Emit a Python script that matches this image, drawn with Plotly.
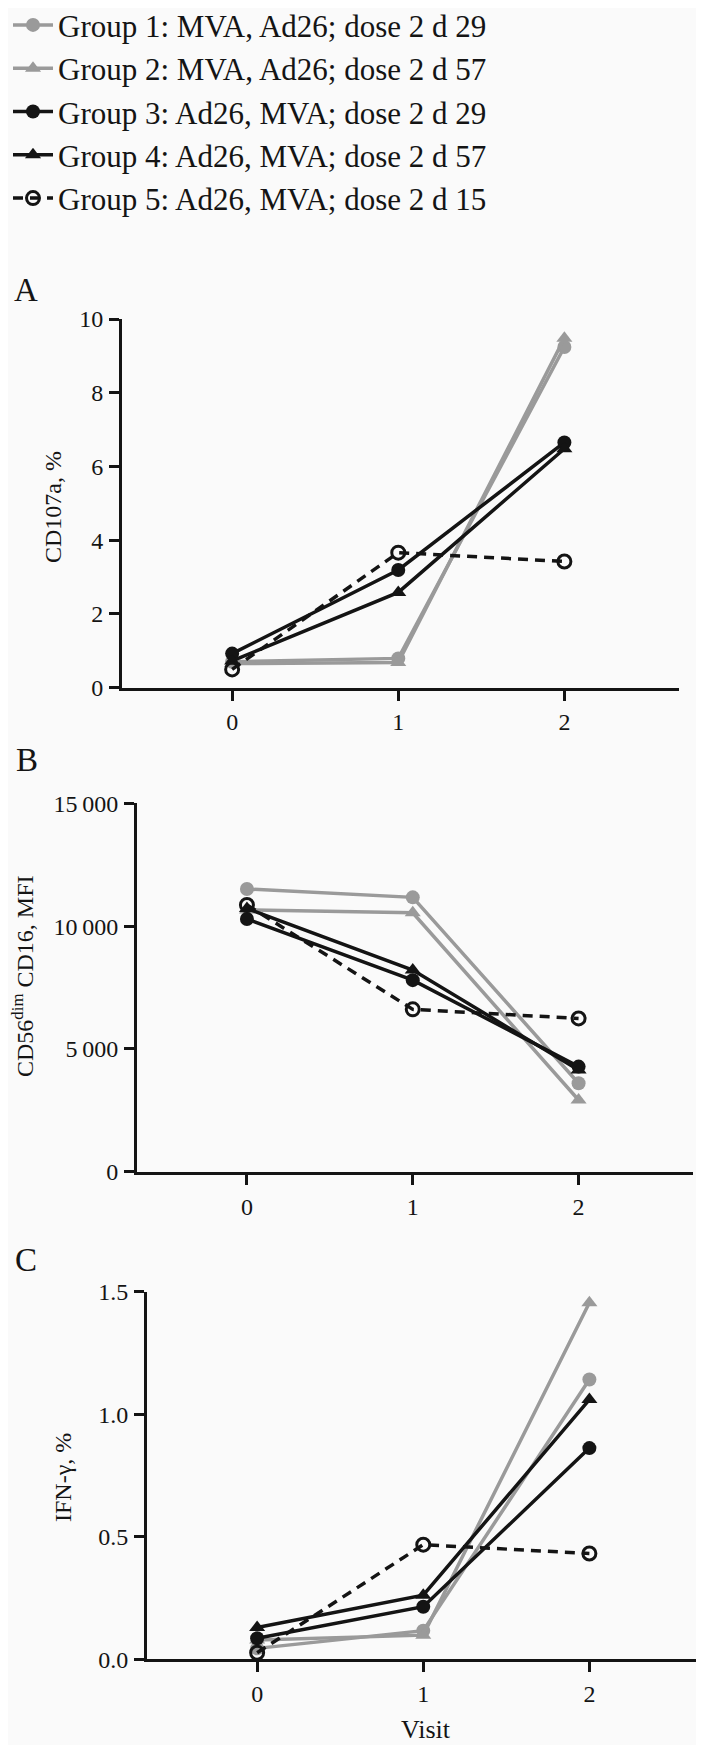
import plotly.graph_objects as go

visits = [0, 1, 2]
x_tick_labels = ["0", "1", "2"]

group_names = [
    "Group 1: MVA, Ad26; dose 2 d 29",
    "Group 2: MVA, Ad26; dose 2 d 57",
    "Group 3: Ad26, MVA; dose 2 d 29",
    "Group 4: Ad26, MVA; dose 2 d 57",
    "Group 5: Ad26, MVA; dose 2 d 15",
]

# Panel A: CD107a, %
cd107a_g1 = [0.70, 0.79, 9.24]
cd107a_g2 = [0.65, 0.68, 9.48]
cd107a_g3 = [0.92, 3.19, 6.65]
cd107a_g4 = [0.72, 2.58, 6.48]
cd107a_g5 = [0.49, 3.66, 3.42]

# Panel B: CD56dim CD16, MFI
mfi_g1 = [11510, 11170, 3600]
mfi_g2 = [10660, 10540, 2920]
mfi_g3 = [10290, 7800, 4280]
mfi_g4 = [10720, 8210, 4140]
mfi_g5 = [10860, 6610, 6240]

# Panel C: IFN-gamma, %
ifn_g1 = [0.045, 0.117, 1.142]
ifn_g2 = [0.079, 0.099, 1.455]
ifn_g3 = [0.086, 0.215, 0.862]
ifn_g4 = [0.130, 0.262, 1.060]
ifn_g5 = [0.027, 0.468, 0.432]

a_ticks = [0, 2, 4, 6, 8, 10]
b_ticks = [0, 5000, 10000, 15000]
b_tick_labels = ["0", "5\u2009000", "10\u2009000", "15\u2009000"]
c_ticks = [0, 0.5, 1.0, 1.5]
c_tick_labels = ["0.0", "0.5", "1.0", "1.5"]

GRAY = "#9a9a9a"
BLACK = "#141414"
FONT = "Liberation Serif, Times New Roman, serif"

styles = [
    dict(color=GRAY, symbol="circle", dash="solid"),
    dict(color=GRAY, symbol="triangle-up", dash="solid"),
    dict(color=BLACK, symbol="circle", dash="solid"),
    dict(color=BLACK, symbol="triangle-up", dash="solid"),
    dict(color=BLACK, symbol="circle-open", dash="10px,7px"),
]

panels = [
    ("x", "y", [cd107a_g1, cd107a_g2, cd107a_g3, cd107a_g4, cd107a_g5]),
    ("x2", "y2", [mfi_g1, mfi_g2, mfi_g3, mfi_g4, mfi_g5]),
    ("x3", "y3", [ifn_g1, ifn_g2, ifn_g3, ifn_g4, ifn_g5]),
]

fig = go.Figure()
for pi, (xa, ya, series) in enumerate(panels):
    for gi, vals in enumerate(series):
        st = styles[gi]
        open_m = st["symbol"] == "circle-open"
        fig.add_trace(go.Scatter(
            x=visits, y=vals, xaxis=xa, yaxis=ya,
            mode="lines+markers",
            name=group_names[gi],
            showlegend=(pi == 0),
            legendrank=gi + 1,
            line=dict(color=st["color"], width=3.5, dash=st["dash"]),
            marker=dict(symbol=st["symbol"], size=14 if not open_m else 13,
                        color=st["color"],
                        line=dict(width=3 if open_m else 0, color=st["color"])),
            cliponaxis=False,
        ))

# The page body has an 8px margin: figure is sized to fit the window,
# and positions below are given in page pixels, shifted by OFF.
OFF = 8
W, H = 704 - OFF, 1745 - OFF

def px_x(v):
    return (v - OFF) / W

def px_y(v):
    return 1 - (v - OFF) / H

xrange = [-0.663, 2.69]
axis_common = dict(
    showline=True, linewidth=3, linecolor=BLACK, ticks="outside", ticklen=10,
    tickwidth=3, tickcolor=BLACK, showgrid=False, zeroline=False,
    tickfont=dict(family=FONT, size=24, color=BLACK), automargin=False,
)

layout_axes = {}
domains = [
    ([122, 679], [319, 687.5]),
    ([137, 693], [803.3, 1171.7]),
    ([147, 704], [1291.7, 1659.4]),
]
yconf = [
    dict(range=[0, 10], tickvals=a_ticks, ticktext=[str(t) for t in a_ticks]),
    dict(range=[0, 15000], tickvals=b_ticks, ticktext=b_tick_labels),
    dict(range=[0, 1.5], tickvals=c_ticks, ticktext=c_tick_labels),
]
for i, ((dx0, dx1), (dy0, dy1)) in enumerate(domains):
    sx = "" if i == 0 else str(i + 1)
    layout_axes["xaxis" + sx] = dict(
        axis_common, domain=[px_x(dx0), min(1.0, px_x(dx1))], range=xrange,
        tickvals=visits, ticktext=x_tick_labels, anchor="y" + sx,
        ticklabelstandoff=1,
    )
    layout_axes["yaxis" + sx] = dict(
        axis_common, domain=[px_y(dy1), px_y(dy0)], anchor="x" + sx,
        ticklabelstandoff=1, **yconf[i],
    )

annotations = []
def ann(text, x, y, size, angle=0):
    annotations.append(dict(
        text=text, x=px_x(x), y=px_y(y), xref="paper", yref="paper",
        showarrow=False, textangle=angle, xanchor="center", yanchor="middle",
        font=dict(family=FONT, size=size, color=BLACK),
    ))

ann("A", 26, 290, 33)
ann("B", 27, 760, 33)
ann("C", 26, 1260, 33)
ann("CD107a, %", 53, 507, 24, -90)
ann("CD56<sup>dim</sup> CD16, MFI", 23, 977, 24, -90)
ann("IFN-γ, %", 63, 1478, 24, -90)
ann("Visit", 426, 1729, 26)

fig.update_layout(
    width=W, height=H,
    margin=dict(l=0, r=0, t=0, b=0, pad=0, autoexpand=False),
    paper_bgcolor="#fafafa", plot_bgcolor="#fafafa",
    font=dict(family=FONT, color=BLACK, size=24),
    showlegend=True,
    legend=dict(
        x=0.0, y=1.0056, xanchor="left", yanchor="top",
        font=dict(family=FONT, size=31, color=BLACK),
        itemwidth=40, tracegroupgap=0, bgcolor="rgba(0,0,0,0)",
        traceorder="normal",
    ),
    annotations=annotations,
    **layout_axes,
)

fig.write_html("out.html")
